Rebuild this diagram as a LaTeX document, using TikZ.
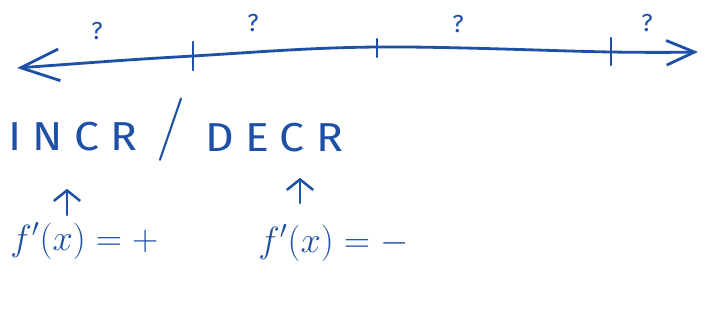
\documentclass[tikz,border=0pt]{standalone}
\usepackage{fontspec}
\setmainfont{Fira Sans}
\newfontfamily\slashfont{Latin Modern Roman}
\usetikzlibrary{arrows.meta}
\definecolor{ink}{RGB}{30,80,165}

\begin{document}
\begin{tikzpicture}[x=0.02cm,y=-0.02cm,>=Stealth,ink,numline/.style={line width=1.6pt,line cap=round},ticmark/.style={line width=1.4pt,line cap=round},qmark/.style={font=\fontsize{14}{14}\selectfont,inner sep=0pt},word/.style={font=\fontsize{23}{23}\selectfont\addfontfeature{FakeStretch=1.1,LetterSpace=28},inner sep=0pt,anchor=base west},deriv/.style={font=\fontsize{22}{22}\selectfont,inner sep=0pt,anchor=base west},uparrow/.style={-{Straight Barb[length=6pt,width=15pt]},line width=1.4pt,line cap=round}]
\useasboundingbox (0,0) rectangle (706,321);
\coordinate (lend) at (17,68); \coordinate (t1) at (193,56); \coordinate (t2) at (377,47); \coordinate (t3) at (611,52); \coordinate (rend) at (698,52);
\draw[numline,{Straight Barb[length=22pt,width=18pt]}-{Straight Barb[length=16pt,width=14pt]}] plot[smooth,tension=0.6] coordinates {(lend) (t1) (t2) (t3) (rend)};
\draw[ticmark] (193,42)--(193,70); \draw[ticmark] (377,39)--(377,57); \draw[ticmark] (611,38)--(611,65);
\node[qmark] (q1) at (97,31) {?}; \node[qmark] (q2) at (253,23) {?}; \node[qmark] (q3) at (458,24) {?}; \node[qmark] (q4) at (647,23) {?};
\node[word] (incr) at (8,150) {INCR}; \node[inner sep=0pt,font=\slashfont\fontsize{36}{36}\selectfont] (slash) at (171,130) {/}; \node[word] (decr) at (205,151) {DECR};
\node[deriv] (fpinc) at (10,250) {$f'(x)=+$}; \node[deriv] (fpdec) at (258,252) {$f'(x)=-$};
\coordinate (tailA) at (67,215); \coordinate (tailB) at (300,203);
\draw[uparrow,shorten >=0.76cm] (tailA) -- (incr.south -| tailA);
\draw[uparrow,shorten >=0.52cm] (tailB) -- (decr.south -| tailB);
\end{tikzpicture}
\end{document}
